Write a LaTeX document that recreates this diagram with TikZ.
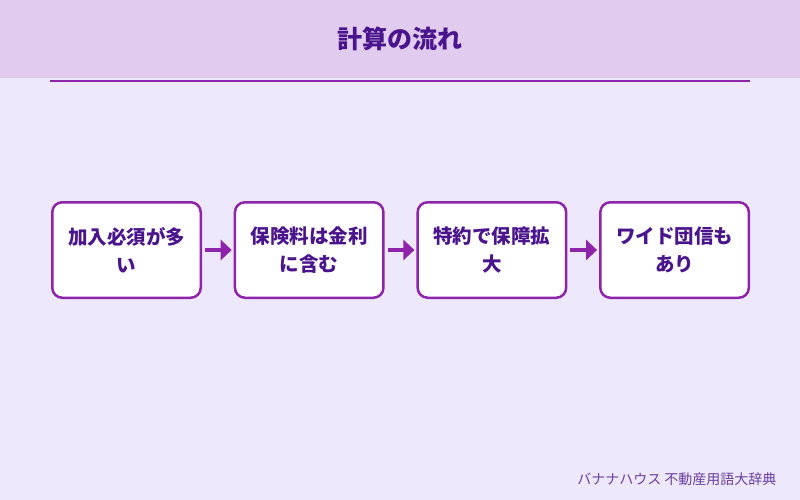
\documentclass[tikz,border=0pt]{standalone}
\usepackage{fontspec}
\setmainfont{Noto Sans CJK JP}
\usetikzlibrary{positioning,arrows.meta}
\definecolor{bgLav}{HTML}{EEE8FC}
\definecolor{headLav}{HTML}{E1CCF0}
\definecolor{flowPurple}{HTML}{8E24AA}
\definecolor{inkPurple}{HTML}{4A148C}
\definecolor{footPurple}{HTML}{6A3E9E}
\tikzset{
  stepbox/.style={draw=flowPurple,line width=2.5pt,rounded corners=10pt,fill=white,align=center,
    minimum width=148.5pt,minimum height=95.5pt,inner sep=0pt,
    font=\fontsize{19.5}{28}\selectfont\bfseries,text=inkPurple},
  arr/.style={-{Triangle[length=11pt,width=20pt]},line width=4pt,draw=flowPurple,
    shorten <=3pt,shorten >=2pt}
}

\begin{document}
\begin{tikzpicture}[x=1pt,y=-1pt,node distance=31.7pt]
\useasboundingbox (0,0) rectangle (800,500);
\fill[bgLav] (0,0) rectangle (800,500);
\fill[headLav] (0,0) rectangle (800,78);
\node[font=\fontsize{25}{30}\selectfont\bfseries,text=inkPurple] (title) at (400,39) {計算の流れ};
\draw[flowPurple,line width=2pt] (50,81) coordinate (ruleL) -- (750,81) coordinate (ruleR);

\node[stepbox] (join) at (126.5,250) {加入必須が多\\い};
\node[stepbox,right=of join] (fee) {保険料は金利\\に含む};
\node[stepbox,right=of fee] (rider) {特約で保障拡\\大};
\node[stepbox,right=of rider] (wide) {ワイド団信も\\あり};

\draw[arr] (join) -- (fee);
\draw[arr] (fee) -- (rider);
\draw[arr] (rider) -- (wide);

\node[anchor=east,font=\fontsize{14}{16}\selectfont,text=footPurple] (credit) at (780,479) {バナナハウス 不動産用語大辞典};
\end{tikzpicture}
\end{document}
